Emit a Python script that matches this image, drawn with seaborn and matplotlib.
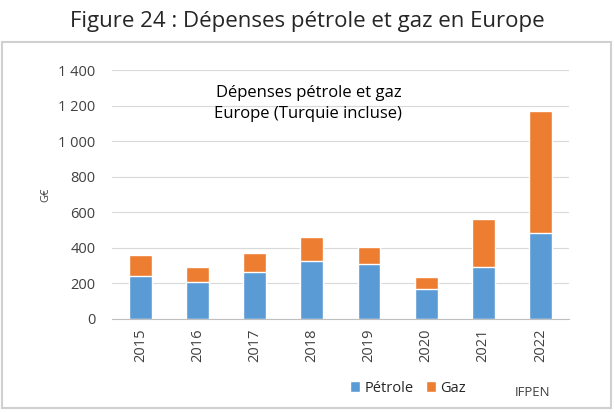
# Dépenses pétrole et gaz en Europe - stacked bars

import numpy as np
import pandas as pd
import matplotlib
matplotlib.use('Agg')
import matplotlib.pyplot as plt
import matplotlib.ticker as mticker
from matplotlib.patches import Rectangle
import seaborn as sns


years = ['2015', '2016', '2017', '2018', '2019', '2020', '2021', '2022']
petrole = [243, 210, 262, 328, 311, 169, 292, 483]
gaz = [117, 82, 111, 133, 94, 67, 270, 686]

sns.set_style('white')
plt.rcParams['font.family'] = ['Open Sans', 'DejaVu Sans']

df = pd.DataFrame({'year': years, 'petrole': petrole, 'gaz': gaz})
df['total'] = df['petrole'] + df['gaz']

blue = '#5B9BD5'
orange = '#ED7D31'

fig = plt.figure(figsize=(6.15, 4.12), dpi=100)
ax = fig.add_axes([0.182, 0.226, 0.743, 0.604])

sns.barplot(data=df, x='year', y='total', color=orange, width=0.4,
            saturation=1, ax=ax, label='Gaz')
sns.barplot(data=df, x='year', y='petrole', color=blue, width=0.4,
            saturation=1, ax=ax, label='Pétrole')

ax.set_ylim(0, 1400)
ax.set_yticks(np.arange(0, 1401, 200))
ax.yaxis.set_major_formatter(mticker.FuncFormatter(lambda v, p: f"{int(v):,}".replace(',', ' ')))
ax.grid(axis='y', color='#D9D9D9', linewidth=0.8)
ax.set_axisbelow(True)
for side in ['top', 'right', 'left']:
    ax.spines[side].set_visible(False)
ax.spines['bottom'].set_color('#BFBFBF')
ax.tick_params(axis='both', length=0, colors='#404040')
ax.tick_params(axis='y', labelsize=10.5, pad=12)
ax.tick_params(axis='x', labelsize=10.5, rotation=90, pad=7)
ax.set_xlabel('')
ax.set_ylabel('G€', fontsize=8, color='#404040', labelpad=5)
if ax.get_legend():
    ax.get_legend().remove()

ax.text(0.43, 0.94, 'Dépenses pétrole et gaz\nEurope (Turquie incluse)',
        transform=ax.transAxes, ha='center', va='top', fontsize=12,
        linespacing=1.45, color='#000000')

# legend below, Pétrole first
handles, labels = ax.get_legend_handles_labels()
order = [labels.index('Pétrole'), labels.index('Gaz')]
fig.legend([handles[i] for i in order], [labels[i] for i in order],
           loc='center', bbox_to_anchor=(408 / 615, 1 - 388 / 412), ncol=2,
           frameon=False, fontsize=10.5, handlelength=0.7, handleheight=0.7,
           handletextpad=0.3, columnspacing=0.8)
fig.text(532 / 615, 1 - 392 / 412, 'IFPEN', ha='center', va='center',
         fontsize=9.5, color='#404040')

fig.suptitle('Figure 24 : Dépenses pétrole et gaz en Europe', y=1 - 22 / 412,
             va='center', fontsize=16)

# frame around the chart
fig.add_artist(Rectangle((2 / 615, 4 / 412), 609 / 615, (1 - 42 / 412) - 4 / 412,
                         transform=fig.transFigure, fill=False,
                         edgecolor='#D0D0D0', linewidth=1.5))

fig.savefig('out.png', dpi=100)
